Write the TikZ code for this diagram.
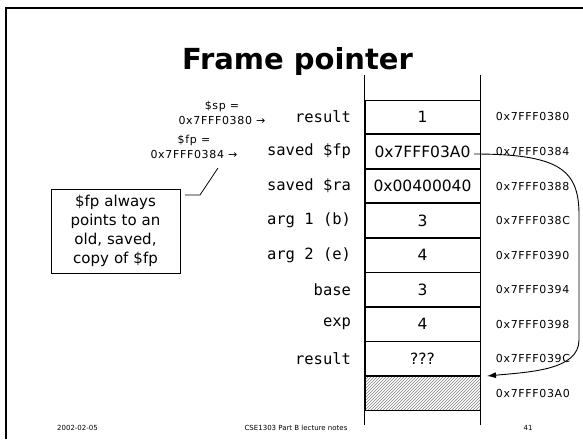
\documentclass[tikz,border=0pt]{standalone}
\usepackage{fontspec}
\setmainfont{DejaVu Sans}
\setmonofont{DejaVu Sans Mono}
\newfontfamily\addrfont[LetterSpace=6]{DejaVu Sans}
\usepackage{tikz}
\usetikzlibrary{positioning}
\usetikzlibrary{patterns}
\usetikzlibrary{arrows.meta}

\tikzset{
  cell/.style={draw, line width=0.8pt, minimum width=115pt, minimum height=33.75pt, inner sep=0pt, font=\fontsize{15.5}{18}\selectfont},
  slot/.style={font=\ttfamily\fontsize{15.5}{18}\selectfont},
  addr/.style={font=\addrfont\fontsize{11}{13}\selectfont},
  ptr/.style={align=center, font=\addrfont\fontsize{11}{15}\selectfont},
  foot/.style={font=\fontsize{7}{8}\selectfont}
}

\begin{document}
\begin{tikzpicture}[x=1pt, y=-1pt, node distance=0pt]
         \useasboundingbox (0,0) rectangle (583,439);
         \draw[line width=2.5pt] (6,439) -- (6,8) -- (583,8);
         \node[font=\bfseries\fontsize{29}{34}\selectfont, anchor=base] (title) at (297.5,69) {Frame pointer};
         % the stack
         \node[cell] (c1) at (422.5,116.9) {1};
         \node[cell, below=of c1] (c2) {0x7FFF03A0};
         \node[cell, below=of c2] (c3) {0x00400040};
         \node[cell, below=of c3] (c4) {3};
         \node[cell, below=of c4] (c5) {4};
         \node[cell, below=of c5] (c6) {3};
         \node[cell, below=of c6] (c7) {4};
         \node[cell, below=of c7] (c8) {???};
         \node[cell, below=of c8, pattern=north east lines, pattern color=gray] (c9) {};
         \coordinate (coltop) at (0,75);
         \coordinate (colbot) at (0,425);
         \draw[line width=0.8pt] (c1.north west |- coltop) -- (c1.north west |- colbot);
         \draw[line width=0.8pt] (c1.north east |- coltop) -- (c1.north east |- colbot);
         % slot names
         \node[slot, left=10pt of c1] (s1) {result};
         \node[slot, left=10pt of c2] (s2) {saved \$fp};
         \node[slot, left=10pt of c3] (s3) {saved \$ra};
         \node[slot, left=10pt of c4] (s4) {arg 1 (b)};
         \node[slot, left=10pt of c5] (s5) {arg 2 (e)};
         \node[slot, left=10pt of c6] (s6) {base};
         \node[slot, left=10pt of c7] (s7) {exp};
         \node[slot, left=10pt of c8] (s8) {result};
         % addresses
         \node[addr, right=12pt of c1] (a1) {0x7FFF0380};
         \node[addr, right=12pt of c2] (a2) {0x7FFF0384};
         \node[addr, right=12pt of c3] (a3) {0x7FFF0388};
         \node[addr, right=12pt of c4] (a4) {0x7FFF038C};
         \node[addr, right=12pt of c5] (a5) {0x7FFF0390};
         \node[addr, right=12pt of c6] (a6) {0x7FFF0394};
         \node[addr, right=12pt of c7] (a7) {0x7FFF0398};
         \node[addr, right=12pt of c8] (a8) {0x7FFF039C};
         \node[addr, right=12pt of c9] (a9) {0x7FFF03A0};
         % registers
         \node[ptr] (sp) at (222,113) {\$sp =\\0x7FFF0380 →};
         \node[ptr] (fp) at (194,147) {\$fp =\\0x7FFF0384 →};
         \node[draw, line width=0.8pt, align=center, text width=123pt, minimum height=84pt, inner sep=3pt, font=\fontsize{15}{19}\selectfont] (note) at (115.5,231) {\$fp always\\points to an\\old, saved,\\copy of \$fp};
         \coordinate (kn0) at (185,195);
         \coordinate (kn) at (200,195);
         \coordinate (tip) at (218,168);
         \draw[line width=0.8pt] (kn0) -- (kn) -- (tip);
         % saved $fp points back
         \coordinate (src) at (474,154);
         \coordinate (dst) at (487,376);
         \draw[line width=0.9pt, -{Latex[length=9pt,width=6pt]}] (src) .. controls (560,154) and (579,170) .. (579,215) -- (579,340) .. controls (579,370) and (530,372) .. (dst);
         % footer
         \node[foot] (date) at (77.5,428) {2002-02-05};
         \node[foot] (course) at (296,428) {CSE1303 Part B lecture notes};
         \node[foot] (page) at (528,428) {41};
    \end{tikzpicture}
\end{document}
